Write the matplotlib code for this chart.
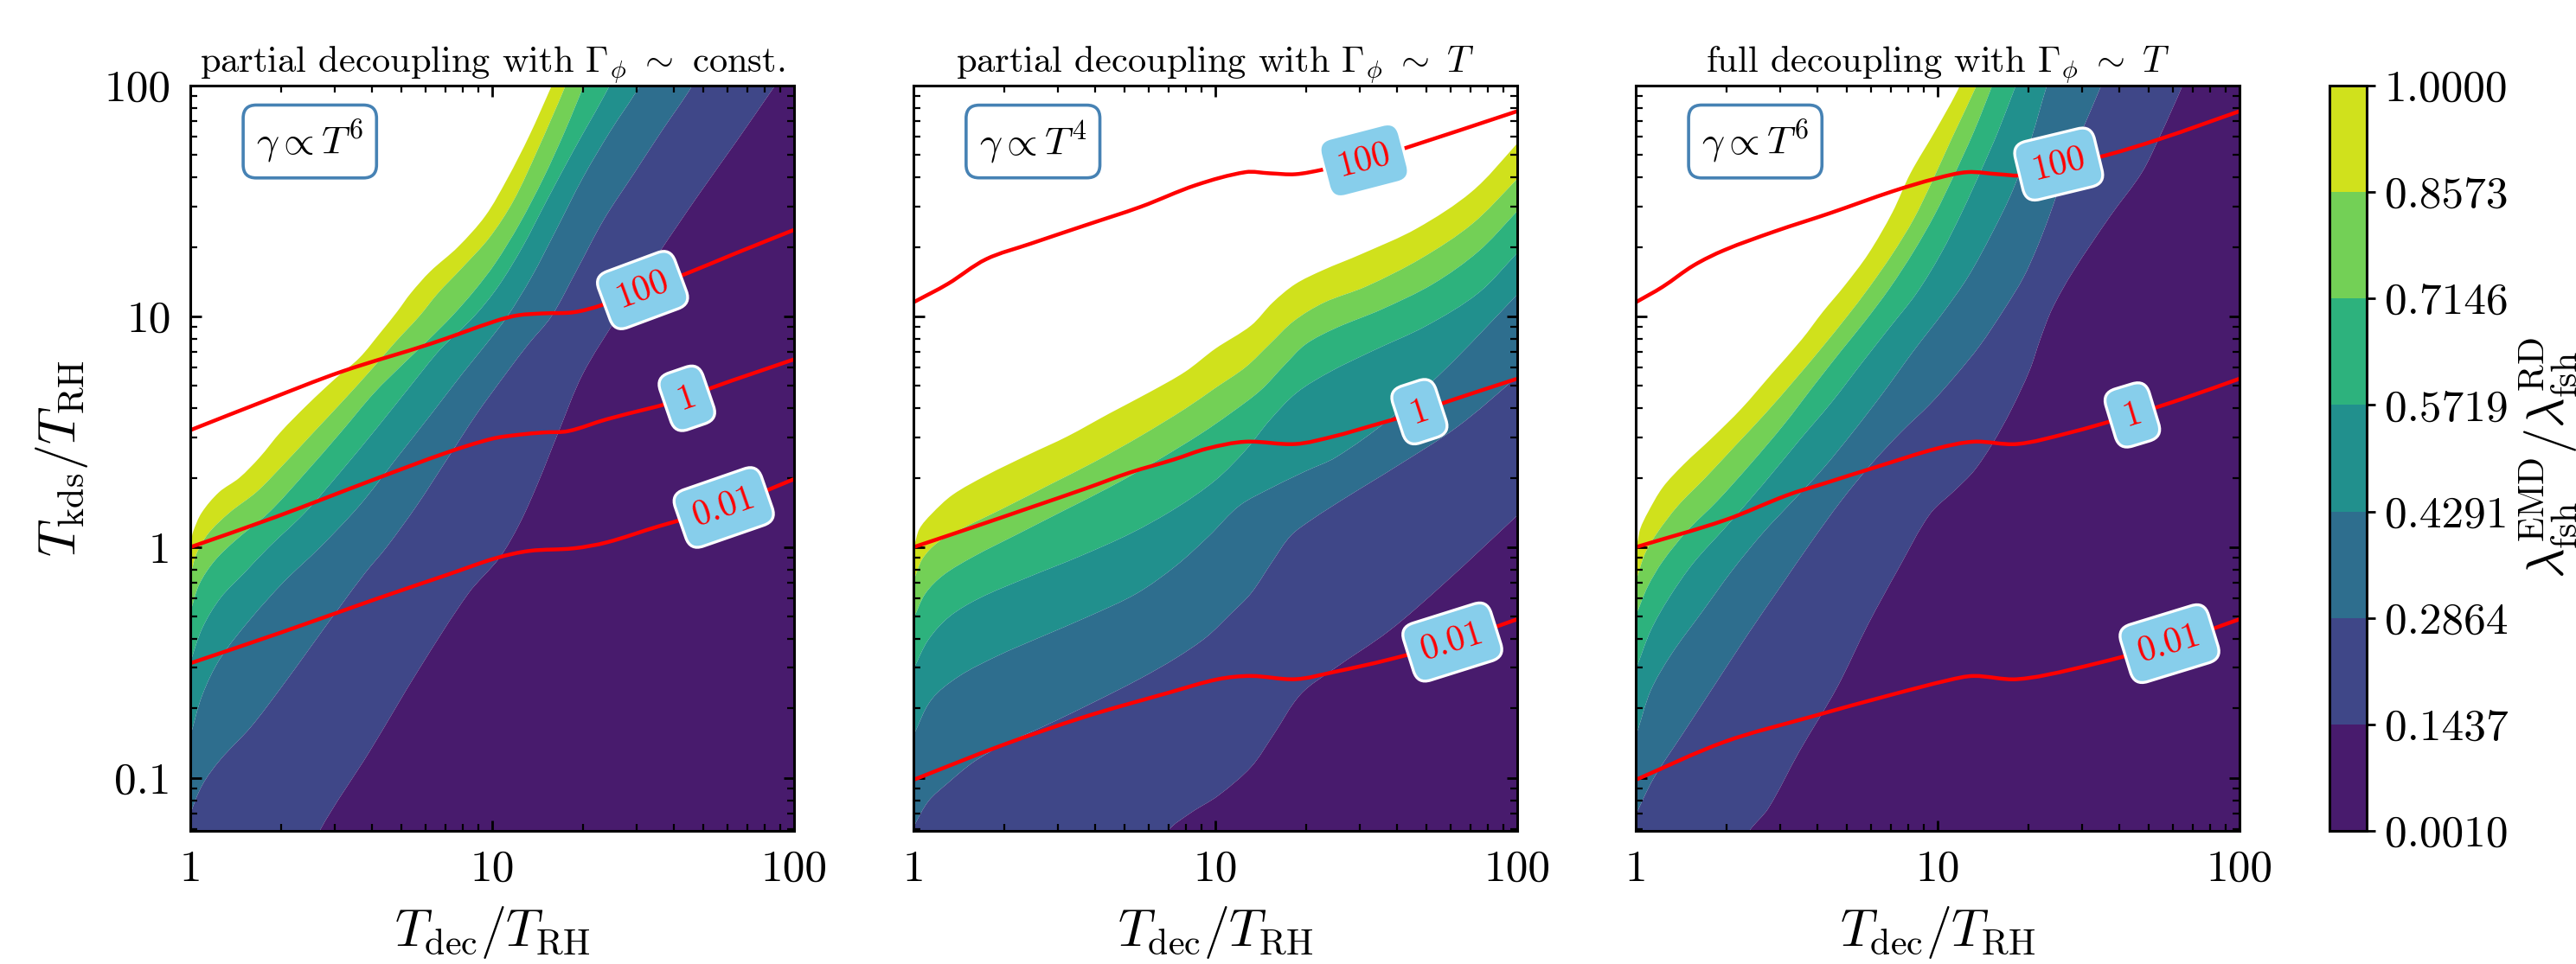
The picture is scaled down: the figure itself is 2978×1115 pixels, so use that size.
import numpy as np
import matplotlib
matplotlib.use("Agg")
import matplotlib.pyplot as plt
from matplotlib.colors import ListedColormap, BoundaryNorm
from matplotlib.cm import ScalarMappable
from matplotlib.ticker import LogLocator, NullFormatter
from matplotlib.path import Path
from matplotlib.patches import PathPatch

plt.rcParams['font.family'] = 'serif'
plt.rcParams['font.serif'] = ['cmr10']
plt.rcParams['mathtext.fontset'] = 'cm'
plt.rcParams['axes.formatter.use_mathtext'] = True

# ---------------- data ----------------
LEVELS = [0.0010, 0.1437, 0.2864, 0.4291, 0.5719, 0.7146, 0.8573, 1.0000]
LEVEL_LABELS = ['0.0010', '0.1437', '0.2864', '0.4291', '0.5719', '0.7146', '0.8573', '1.0000']
TITLES = [r'partial decoupling with $\Gamma_\phi\ \sim$ const.',
          r'partial decoupling with $\Gamma_\phi\ \sim\ T$',
          r'full decoupling with $\Gamma_\phi\ \sim\ T$']
GAMMA_LABELS = [r'$\gamma\propto T^6$', r'$\gamma\propto T^4$', r'$\gamma\propto T^6$']
X_TICKS = [1, 10, 100]
X_TICK_LABELS = ['1', '10', '100']
Y_TICKS = [0.1, 1, 10, 100]
Y_TICK_LABELS = ['0.1', '1', '10', '100']
XLIM = (1, 100)
YLIM = (0.059, 100)
LINE_LABELS = ['100', '1', '0.01']

# contour-band edges, as (log10 T_dec/T_RH, log10 T_kds/T_RH), from level 1.0 down to 0.1437
P1_EDGES = [
    [(-0.05,-0.1),(0.0,0.02),(0.01,0.07),(0.038,0.15),(0.095,0.238),(0.162,0.30),(0.229,0.388),(0.30,0.50),(0.39,0.62),(0.48,0.73),(0.56,0.82),(0.63,0.93),(0.685,1.02),(0.73,1.10),(0.795,1.195),(0.886,1.30),(0.977,1.435),(1.05,1.596),(1.123,1.783),(1.196,1.996),(1.23,2.1)],
    [(-0.05,-0.3),(0.0,-0.124),(0.02,-0.03),(0.06,0.06),(0.13,0.15),(0.22,0.24),(0.31,0.36),(0.41,0.50),(0.51,0.64),(0.60,0.77),(0.68,0.89),(0.758,1.0),(0.82,1.1),(0.90,1.21),(0.99,1.34),(1.07,1.50),(1.15,1.72),(1.243,2.0),(1.27,2.1)],
    [(-0.05,-0.45),(0.0,-0.28),(0.03,-0.16),(0.08,-0.06),(0.15,0.03),(0.26,0.15),(0.38,0.32),(0.50,0.50),(0.61,0.67),(0.71,0.80),(0.79,0.90),(0.866,1.0),(0.94,1.11),(1.01,1.23),(1.09,1.40),(1.17,1.60),(1.24,1.80),(1.303,2.0),(1.33,2.1)],
    [(-0.05,-0.7),(0.0,-0.5),(0.04,-0.35),(0.1,-0.22),(0.18,-0.11),(0.26,0.0),(0.38,0.15),(0.50,0.33),(0.62,0.52),(0.73,0.70),(0.83,0.86),(0.94,1.0),(1.02,1.13),(1.10,1.30),(1.18,1.50),(1.27,1.72),(1.389,2.0),(1.42,2.1)],
    [(-0.05,-1.05),(0.0,-0.82),(0.04,-0.64),(0.1,-0.48),(0.2,-0.31),(0.31,-0.15),(0.43,0.0),(0.56,0.18),(0.68,0.38),(0.80,0.58),(0.90,0.75),(0.98,0.88),(1.05,1.0),(1.13,1.17),(1.21,1.37),(1.30,1.60),(1.39,1.80),(1.489,2.0),(1.52,2.1)],
    [(-0.05,-1.4),(0.0,-1.16),(0.04,-1.03),(0.10,-0.92),(0.2,-0.78),(0.3,-0.61),(0.4,-0.43),(0.5,-0.25),(0.58,-0.11),(0.65,0.0),(0.75,0.18),(0.85,0.38),(0.95,0.58),(1.05,0.76),(1.12,0.88),(1.196,1.0),(1.28,1.2),(1.37,1.42),(1.47,1.62),(1.56,1.80),(1.663,2.0),(1.70,2.1)],
    [(0.40,-1.35),(0.429,-1.228),(0.594,-0.885),(0.758,-0.528),(0.922,-0.199),(1.023,-0.048),(1.09,0.10),(1.151,0.276),(1.22,0.5),(1.30,0.75),(1.416,1.0),(1.55,1.27),(1.68,1.52),(1.81,1.76),(1.937,2.0),(1.99,2.1)],
]
P2_EDGES = [
    [(-0.05,-0.12),(0.0,0.0),(0.02,0.08),(0.06,0.144),(0.13,0.227),(0.24,0.31),(0.38,0.40),(0.51,0.48),(0.65,0.58),(0.78,0.67),(0.90,0.76),(1.0,0.86),(1.118,0.96),(1.19,1.06),(1.265,1.14),(1.356,1.20),(1.484,1.27),(1.666,1.38),(1.849,1.54),(1.995,1.742),(2.05,1.83)],
    [(-0.05,-0.26),(0.0,-0.144),(0.03,-0.05),(0.08,0.02),(0.16,0.08),(0.3,0.17),(0.45,0.27),(0.6,0.37),(0.75,0.48),(0.9,0.6),(1.0,0.69),(1.1,0.78),(1.18,0.88),(1.26,0.98),(1.36,1.06),(1.5,1.13),(1.68,1.25),(1.85,1.40),(1.995,1.589),(2.05,1.67)],
    [(-0.05,-0.42),(0.0,-0.308),(0.04,-0.2),(0.1,-0.12),(0.2,-0.04),(0.35,0.06),(0.5,0.16),(0.65,0.26),(0.8,0.37),(0.95,0.49),(1.05,0.58),(1.15,0.68),(1.23,0.79),(1.3,0.88),(1.4,0.95),(1.55,1.03),(1.72,1.14),(1.87,1.28),(1.995,1.449),(2.05,1.53)],
    [(-0.05,-0.65),(0.0,-0.528),(0.05,-0.4),(0.12,-0.3),(0.22,-0.22),(0.38,-0.13),(0.55,-0.04),(0.72,0.06),(0.87,0.17),(1.0,0.29),(1.1,0.42),(1.18,0.55),(1.27,0.67),(1.38,0.76),(1.52,0.85),(1.7,0.96),(1.87,1.1),(1.995,1.268),(2.05,1.35)],
    [(-0.05,-0.95),(0.0,-0.816),(0.06,-0.66),(0.15,-0.56),(0.28,-0.47),(0.42,-0.39),(0.58,-0.3),(0.74,-0.2),(0.87,-0.08),(0.98,0.05),(1.08,0.18),(1.19,0.26),(1.30,0.33),(1.40,0.39),(1.575,0.553),(1.758,0.767),(1.995,1.088),(2.05,1.17)],
    [(-0.05,-1.35),(0.0,-1.214),(0.05,-1.1),(0.114,-1.022),(0.2,-0.93),(0.296,-0.857),(0.442,-0.77),(0.6,-0.67),(0.75,-0.57),(0.87,-0.48),(0.97,-0.39),(1.05,-0.29),(1.118,-0.2),(1.19,-0.06),(1.25,0.05),(1.32,0.12),(1.43,0.213),(1.6,0.35),(1.8,0.52),(1.995,0.734),(2.05,0.81)],
    [(0.80,-1.35),(0.844,-1.228),(0.92,-1.15),(1.009,-1.077),(1.118,-0.953),(1.191,-0.816),(1.283,-0.637),(1.392,-0.528),(1.575,-0.363),(1.758,-0.157),(1.995,0.131),(2.05,0.2)],
]
P3_EDGES = [
    [(-0.05,-0.1),(0.0,0.0),(0.015,0.08),(0.04,0.15),(0.09,0.26),(0.16,0.36),(0.25,0.47),(0.35,0.6),(0.45,0.75),(0.55,0.9),(0.62,1.02),(0.69,1.13),(0.77,1.27),(0.85,1.45),(0.91,1.62),(0.995,1.81),(1.074,2.0),(1.10,2.1)],
    [(-0.05,-0.26),(0.0,-0.144),(0.03,-0.03),(0.07,0.06),(0.14,0.18),(0.23,0.3),(0.33,0.44),(0.43,0.58),(0.53,0.73),(0.62,0.87),(0.70,1.0),(0.77,1.12),(0.85,1.27),(0.92,1.42),(0.98,1.58),(1.05,1.78),(1.129,2.0),(1.16,2.1)],
    [(-0.05,-0.42),(0.0,-0.295),(0.04,-0.17),(0.09,-0.06),(0.17,0.07),(0.27,0.2),(0.38,0.36),(0.49,0.53),(0.59,0.7),(0.68,0.85),(0.76,0.98),(0.84,1.12),(0.92,1.28),(0.99,1.44),(1.05,1.6),(1.12,1.8),(1.181,2.0),(1.21,2.1)],
    [(-0.05,-0.66),(0.0,-0.528),(0.05,-0.36),(0.11,-0.22),(0.19,-0.07),(0.3,0.09),(0.42,0.27),(0.54,0.46),(0.65,0.63),(0.75,0.8),(0.84,0.95),(0.93,1.1),(1.01,1.27),(1.08,1.45),(1.15,1.65),(1.2,1.8),(1.259,2.0),(1.29,2.1)],
    [(-0.05,-0.95),(0.0,-0.816),(0.05,-0.62),(0.12,-0.46),(0.22,-0.28),(0.32,-0.1),(0.42,0.06),(0.52,0.2),(0.62,0.34),(0.72,0.5),(0.82,0.67),(0.92,0.85),(1.02,1.02),(1.1,1.17),(1.18,1.36),(1.25,1.55),(1.31,1.77),(1.362,2.0),(1.39,2.1)],
    [(-0.05,-1.3),(0.0,-1.16),(0.06,-1.0),(0.15,-0.82),(0.26,-0.6),(0.37,-0.38),(0.48,-0.17),(0.58,0.02),(0.68,0.2),(0.78,0.36),(0.88,0.5),(0.975,0.62),(1.057,0.74),(1.14,0.874),(1.222,1.034),(1.284,1.168),(1.33,1.30),(1.37,1.435),(1.42,1.622),(1.47,1.78),(1.542,2.0),(1.57,2.1)],
    [(0.35,-1.3),(0.377,-1.228),(0.439,-1.132),(0.542,-0.885),(0.666,-0.61),(0.769,-0.336),(0.872,-0.089),(0.975,0.144),(1.06,0.25),(1.12,0.33),(1.181,0.447),(1.243,0.593),(1.305,0.767),(1.34,0.901),(1.38,1.034),(1.449,1.195),(1.572,1.435),(1.676,1.622),(1.737,1.783),(1.81,1.996),(1.84,2.1)],
]

# red contour lines (labels 100, 1, 0.01), same log10 convention
P1_LINES = [
    [(0.0,0.507),(0.247,0.634),(0.502,0.761),(0.795,0.881),(1.014,0.981),(1.087,1.005),(1.17,1.013),(1.27,1.018),(1.361,1.048),(1.498,1.114),(1.635,1.181),(1.8,1.27),(2.0,1.375)],
    [(0.0,0.0),(0.283,0.131),(0.612,0.295),(0.85,0.41),(1.0,0.47),(1.087,0.487),(1.17,0.497),(1.252,0.503),(1.379,0.554),(1.645,0.645),(1.726,0.69),(2.0,0.814)],
    [(0.0,-0.503),(0.3,-0.37),(0.612,-0.226),(0.85,-0.12),(1.014,-0.047),(1.124,-0.016),(1.27,-0.005),(1.38,0.021),(1.55,0.09),(1.767,0.172),(2.0,0.295)],
]
P2_LINES = [
    [(0.0,1.061),(0.114,1.141),(0.241,1.248),(0.388,1.315),(0.57,1.395),(0.753,1.475),(0.936,1.569),(1.1,1.625),(1.18,1.62),(1.265,1.616),(1.356,1.636),(1.493,1.676),(1.612,1.722),(2.0,1.889)],
    [(0.0,0.0),(0.205,0.09),(0.388,0.172),(0.57,0.254),(0.716,0.323),(0.863,0.38),(0.972,0.427),(1.1,0.457),(1.265,0.447),(1.392,0.48),(1.52,0.527),(1.676,0.587),(1.776,0.634),(2.0,0.73)],
    [(0.0,-1.008),(0.296,-0.857),(0.57,-0.734),(0.844,-0.631),(1.009,-0.572),(1.118,-0.558),(1.265,-0.572),(1.392,-0.541),(1.575,-0.487),(1.785,-0.411),(2.0,-0.312)],
]
P3_LINES = [
    [(0.0,1.061),(0.089,1.128),(0.192,1.221),(0.295,1.288),(0.46,1.368),(0.645,1.448),(0.851,1.542),(0.996,1.598),(1.099,1.625),(1.202,1.616),(1.284,1.612),(1.401,1.66),(1.531,1.689),(1.737,1.769),(2.0,1.889)],
    [(0.0,0.0),(0.295,0.117),(0.501,0.225),(0.624,0.276),(0.81,0.353),(0.996,0.427),(1.119,0.457),(1.263,0.447),(1.428,0.493),(1.645,0.573),(1.82,0.647),(2.0,0.73)],
    [(0.0,-1.008),(0.295,-0.843),(0.583,-0.734),(0.851,-0.638),(1.037,-0.576),(1.119,-0.558),(1.263,-0.572),(1.449,-0.528),(1.768,-0.418),(2.0,-0.312)],
]
# log10(T_dec/T_RH) where each inline label sits
P1_LABEL_AT = [1.498, 1.645, 1.767]
P2_LABEL_AT = [1.493, 1.676, 1.785]
P3_LABEL_AT = [1.401, 1.645, 1.768]

PANELS = [
    (P1_EDGES, P1_LINES, P1_LABEL_AT),
    (P2_EDGES, P2_LINES, P2_LABEL_AT),
    (P3_EDGES, P3_LINES, P3_LABEL_AT),
]

# ---------------- styling ----------------
cmap_full = plt.get_cmap('viridis')
mids = [(LEVELS[i] + LEVELS[i + 1]) / 2 for i in range(len(LEVELS) - 1)]
band_colors = [cmap_full((m - LEVELS[0]) / (LEVELS[-1] - LEVELS[0])) for m in mids]
cmap = ListedColormap(band_colors)
norm = BoundaryNorm(LEVELS, cmap.N)

FIG_W, FIG_H = 2978, 1115
fig = plt.figure(figsize=(FIG_W / 200, FIG_H / 200), dpi=200)

ax_left_px = [220, 1056, 1891]
ax_w_px, ax_top_px, ax_bot_px = 698, 99, 961
FAR_LO = (-0.3, -1.6)
FAR_HI = (2.4, 2.4)
CORNER = (2.4, -1.6)
TICK_FS = 18.5
LABEL_FS = 21.5


def smooth_segments(pts):
    """Smooth rendering (cubic Bezier) through the read points, in log space."""
    P = np.asarray(pts, dtype=float)
    n = len(P)
    tang = []
    for i in range(n):
        a = P[max(i - 1, 0)]
        b = P[min(i + 1, n - 1)]
        d = b - a
        tang.append(d / (np.hypot(*d) + 1e-12))
    verts, codes = [], []
    for i in range(n - 1):
        L = np.hypot(*(P[i + 1] - P[i]))
        c1 = P[i] + tang[i] * L / 3
        c2 = P[i + 1] - tang[i + 1] * L / 3
        verts += [c1, c2, P[i + 1]]
        codes += [Path.CURVE4] * 3
    return verts, codes


def to_data(verts):
    v = np.asarray(verts, dtype=float)
    return 10 ** v


def line_path(pts):
    v, c = smooth_segments(pts)
    return Path(to_data([pts[0]] + v), [Path.MOVETO] + c)


def band_path(upper, lower):
    verts = [FAR_LO, upper[0]]
    codes = [Path.MOVETO, Path.LINETO]
    v, c = smooth_segments(upper)
    verts += v
    codes += c
    verts.append(FAR_HI)
    codes.append(Path.LINETO)
    if lower is None:
        verts += [CORNER, FAR_LO]
        codes += [Path.LINETO, Path.CLOSEPOLY]
    else:
        rev = list(lower)[::-1]
        verts.append(rev[0])
        codes.append(Path.LINETO)
        v, c = smooth_segments(rev)
        verts += v
        codes += c
        verts += [FAR_LO, FAR_LO]
        codes += [Path.LINETO, Path.CLOSEPOLY]
    return Path(to_data(verts), codes)


for p, (edges, lines, label_at) in enumerate(PANELS):
    ax = fig.add_axes([ax_left_px[p] / FIG_W, 1 - ax_bot_px / FIG_H,
                       ax_w_px / FIG_W, (ax_bot_px - ax_top_px) / FIG_H])
    ax.set_xscale('log')
    ax.set_yscale('log')
    ax.set_xlim(*XLIM)
    ax.set_ylim(*YLIM)

    n = len(edges)
    for k in range(n):
        lower = edges[k + 1] if k + 1 < n else None
        patch = PathPatch(band_path(edges[k], lower), facecolor=band_colors[n - 1 - k],
                          edgecolor='none', lw=0, zorder=1)
        ax.add_patch(patch)

    for li, pts in enumerate(lines):
        ax.add_patch(PathPatch(line_path(pts), facecolor='none', edgecolor='red',
                               lw=1.6, zorder=3, capstyle='butt'))
        arr = np.asarray(pts)
        lx = label_at[li]
        ly = np.interp(lx, arr[:, 0], arr[:, 1])
        y1, y2 = np.interp([lx - 0.06, lx + 0.06], arr[:, 0], arr[:, 1])
        p1 = ax.transData.transform((10 ** (lx - 0.06), 10 ** y1))
        p2 = ax.transData.transform((10 ** (lx + 0.06), 10 ** y2))
        ang = np.degrees(np.arctan2(p2[1] - p1[1], p2[0] - p1[0]))
        ax.text(10 ** lx, 10 ** ly, LINE_LABELS[li], color='red', fontsize=15,
                rotation=ang, rotation_mode='anchor', ha='center', va='center',
                zorder=5,
                bbox=dict(boxstyle='round,pad=0.38', fc='skyblue', ec='white', lw=1.2))

    ax.text(0.198, 0.925, GAMMA_LABELS[p], transform=ax.transAxes, ha='center',
            va='center', fontsize=16.5, zorder=6,
            bbox=dict(boxstyle='round,pad=0.33', fc='white', ec='steelblue', lw=1.3))

    ax.set_xticks(X_TICKS)
    ax.set_xticklabels(X_TICK_LABELS)
    ax.set_yticks(Y_TICKS)
    if p == 0:
        ax.set_yticklabels(Y_TICK_LABELS)
        ax.set_ylabel(r'$T_{\rm kds}/T_{\rm RH}$', fontsize=LABEL_FS, labelpad=6)
    else:
        ax.set_yticklabels([])
    ax.xaxis.set_minor_locator(LogLocator(base=10, subs=np.arange(2, 10)))
    ax.yaxis.set_minor_locator(LogLocator(base=10, subs=np.arange(2, 10)))
    ax.xaxis.set_minor_formatter(NullFormatter())
    ax.yaxis.set_minor_formatter(NullFormatter())
    ax.tick_params(which='both', direction='in', top=True, right=True, zorder=7)
    ax.tick_params(which='major', length=4.5, width=1.0, labelsize=TICK_FS, pad=8)
    ax.tick_params(which='minor', length=3.0, width=0.8)
    for s in ax.spines.values():
        s.set_linewidth(1.1)
        s.set_zorder(8)
    ax.set_xlabel(r'$T_{\rm dec}/T_{\rm RH}$', fontsize=LABEL_FS, labelpad=6)
    ax.set_title(TITLES[p], fontsize=15.3, pad=5)

cax = fig.add_axes([2693 / FIG_W, 1 - ax_bot_px / FIG_H, 43 / FIG_W,
                    (ax_bot_px - ax_top_px) / FIG_H])
sm = ScalarMappable(norm=norm, cmap=cmap)
cb = fig.colorbar(sm, cax=cax, ticks=LEVELS, spacing='proportional')
cax.set_yticklabels(LEVEL_LABELS)
cax.tick_params(direction='out', length=3.5, width=1.0, labelsize=TICK_FS, pad=4)
cax.minorticks_off()
cb.outline.set_linewidth(1.1)
cax.set_ylabel(r'$\lambda_{\rm fsh}^{\rm EMD}/\lambda_{\rm fsh}^{\rm RD}$', fontsize=LABEL_FS,
               labelpad=4)

fig.savefig('out.png', dpi=200)
